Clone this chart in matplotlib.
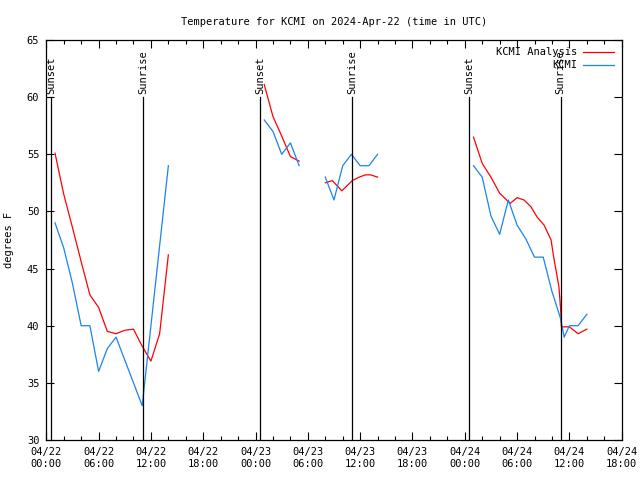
import numpy as np
import matplotlib
matplotlib.use("Agg")
import matplotlib.pyplot as plt
from matplotlib.ticker import FixedLocator, MultipleLocator

# hours since 2024-04-22 00:00 UTC; NaN separates data gaps
analysis_hours = [1, 2, 3, 4, 5, 6, 7, 8, 9, 10, 11, 12, 13, 14, np.nan,
                  25, 26, 27, 28, 29, np.nan,
                  32, 32.8, 33.9, 35.1, 35.9, 36.6, 37.2, 38, np.nan,
                  49, 50, 51, 52, 53.2, 54, 54.8, 55.6, 56.3, 57.1, 57.9, 58.2, 58.8, 59.0, 59.08, 60, 61, 62]
analysis_temp = [55.1, 51.5, 48.6, 45.6, 42.7, 41.6, 39.5, 39.3, 39.6, 39.7, 38.2, 36.9, 39.3, 46.2, np.nan,
                 61.1, 58.3, 56.6, 54.8, 54.4, np.nan,
                 52.5, 52.7, 51.8, 52.7, 53.0, 53.2, 53.2, 53.0, np.nan,
                 56.5, 54.2, 53.0, 51.6, 50.7, 51.2, 51.0, 50.4, 49.5, 48.8, 47.5, 46.0, 43.4, 41.4, 39.9, 39.9, 39.3, 39.7]

obs_hours = [1, 2, 3, 4, 5, 6, 7, 8, 9, 10, 11, 12, 13, 14, np.nan,
             25, 26, 27, 28, 29, np.nan,
             32, 33, 34, 35, 36, 37, 38, np.nan,
             49, 50, 51, 52, 53, 54, 55, 56, 57, 58, 59, 59.4, 60, 61, 62]
obs_temp = [49, 46.8, 43.7, 40, 40, 36, 38, 39, 37, 35, 33, 40, 47, 54, np.nan,
            58, 57, 55, 56, 54, np.nan,
            53, 51, 54, 55, 54, 54, 55, np.nan,
            54, 53, 49.6, 48, 51, 48.8, 47.6, 46, 46, 43, 40.6, 39, 40, 40, 41]

sunset_hours = [0.55, 24.55, 48.5]
sunrise_hours = [11.1, 35.1, 59.0]

tick_hours = [0, 6, 12, 18, 24, 30, 36, 42, 48, 54, 60, 66]
tick_labels = ["04/22\n00:00", "04/22\n06:00", "04/22\n12:00", "04/22\n18:00",
               "04/23\n00:00", "04/23\n06:00", "04/23\n12:00", "04/23\n18:00",
               "04/24\n00:00", "04/24\n06:00", "04/24\n12:00", "04/24\n18:00"]

plt.rcParams['font.family'] = ['DejaVu Sans Mono']
fs = 7.5

fig = plt.figure(figsize=(6.4, 4.8), dpi=100)
ax = fig.add_axes([46.3/640, 1-440/480, (621.7-46.3)/640, 400/480])

ax.plot(analysis_hours, analysis_temp, color='#ff0000', lw=0.9, label='KCMI Analysis')
ax.plot(obs_hours, obs_temp, color='#1a84ec', lw=0.9, label='KCMI')

for h in sunset_hours:
    ax.plot([h, h], [30, 60], color='black', lw=0.9)
    ax.text(h, 60.3, 'Sunset', rotation=90, ha='center', va='bottom', fontsize=fs)
for h in sunrise_hours:
    ax.plot([h, h], [30, 60], color='black', lw=0.9)
    ax.text(h, 60.3, 'Sunrise', rotation=90, ha='center', va='bottom', fontsize=fs)

ax.set_xlim(0, 66)
ax.set_ylim(30, 65)
ax.xaxis.set_major_locator(FixedLocator(tick_hours))
ax.set_xticklabels(tick_labels, fontsize=fs)
ax.xaxis.set_minor_locator(MultipleLocator(2))
ax.yaxis.set_major_locator(MultipleLocator(5))
ax.tick_params(axis='both', which='major', direction='in', length=6, width=0.8,
               top=True, right=True, labelsize=fs, pad=5)
ax.tick_params(axis='x', which='minor', direction='in', length=3, width=0.8, top=True)
for s in ax.spines.values():
    s.set_linewidth(0.9)

ax.set_ylabel('degrees F', fontsize=fs, labelpad=9)
ax.set_title('Temperature for KCMI on 2024-Apr-22 (time in UTC)', fontsize=fs, pad=11)

leg = ax.legend(loc='upper right', frameon=False, fontsize=fs, markerfirst=False,
                handlelength=3.0, handletextpad=0.6, borderaxespad=0.3, labelspacing=0.3)
for t in leg.get_texts():
    t.set_ha('right')
leg._legend_box.align = 'right'

fig.savefig('out.png', dpi=100)
